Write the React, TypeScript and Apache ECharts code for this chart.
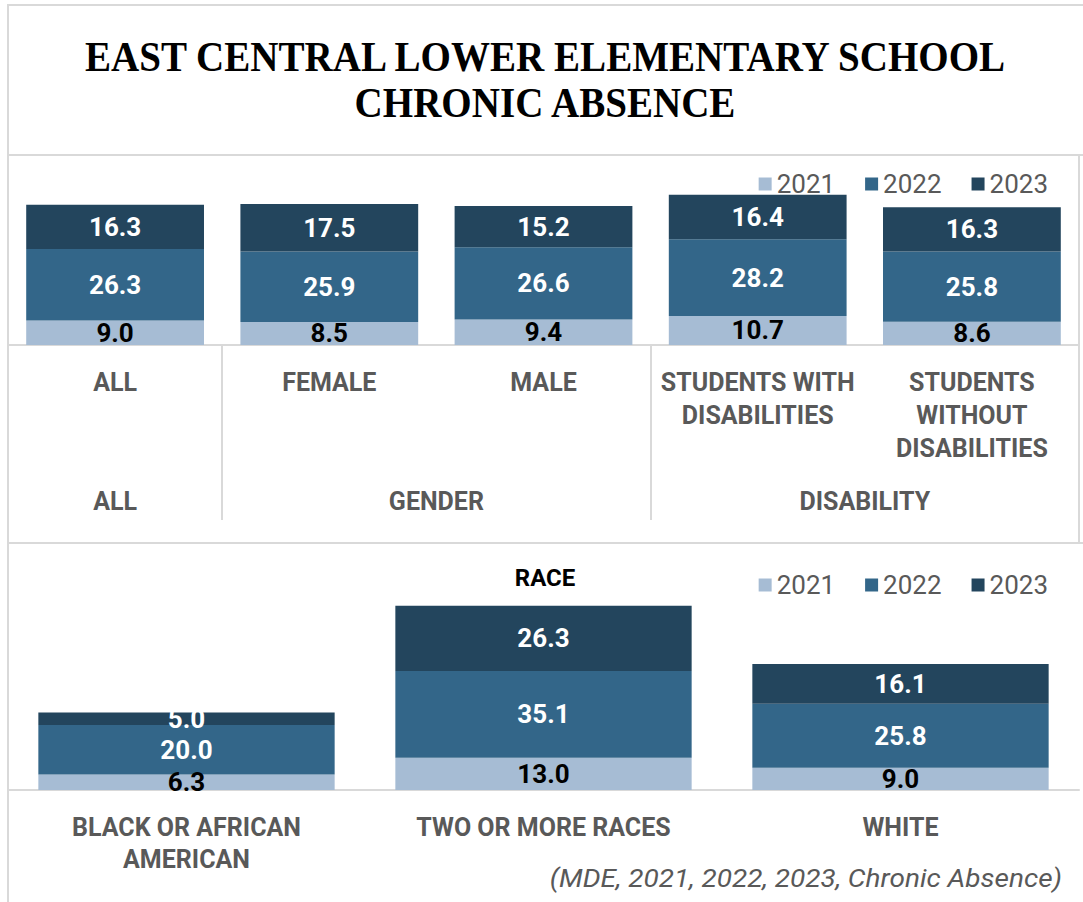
import React, { useEffect, useRef } from "react";
import * as echarts from "echarts";

const topCategories = [
  "ALL",
  "FEMALE",
  "MALE",
  "STUDENTS WITH\nDISABILITIES",
  "STUDENTS\nWITHOUT\nDISABILITIES",
];
const groupNames = ["ALL", "GENDER", "DISABILITY"];
const groupSizes = [1, 2, 2];
const top2021 = [9.0, 8.5, 9.4, 10.7, 8.6];
const top2022 = [26.3, 25.9, 26.6, 28.2, 25.8];
const top2023 = [16.3, 17.5, 15.2, 16.4, 16.3];

const raceCategories = ["BLACK OR AFRICAN\nAMERICAN", "TWO OR MORE RACES", "WHITE"];
const race2021 = [6.3, 13.0, 9.0];
const race2022 = [20.0, 35.1, 25.8];
const race2023 = [5.0, 26.3, 16.1];

const years = ["2021", "2022", "2023"];
const colors = ["#A6BCD4", "#336689", "#23455D"];
const labelColors = ["#000000", "#FFFFFF", "#FFFFFF"];

const FONT = "Roboto, 'Open Sans', sans-serif";
const GRID_LINE = "#D9D9D9";

export default function App() {
  const ref = useRef<HTMLDivElement>(null);

  useEffect(() => {
    if (!ref.current) return;
    const chart = echarts.init(ref.current, undefined, { renderer: "svg" });

    const centers: number[] = [];
    const bounds: number[] = [];
    let acc = 0;
    groupSizes.forEach((s, i) => {
      centers.push(acc + s / 2);
      acc += s;
      if (i < groupSizes.length - 1) bounds.push(acc);
    });
    const totalCats = acc;

    const barLabel = (i: number) => ({
      show: true,
      position: "inside",
      color: labelColors[i],
      fontFamily: FONT,
      fontWeight: "bold",
      fontSize: 26,
      formatter: (p: any) => Number(p.value).toFixed(1),
    });

    const topData = [top2021, top2022, top2023];
    const raceData = [race2021, race2022, race2023];

    const series: any[] = [];
    years.forEach((y, i) => {
      series.push({
        name: y,
        type: "bar",
        stack: "top",
        xAxisIndex: 0,
        yAxisIndex: 0,
        barWidth: "83%",
        itemStyle: { color: colors[i] },
        label: barLabel(i),
        data: topData[i],
      });
    });
    years.forEach((y, i) => {
      series.push({
        name: y,
        type: "bar",
        stack: "race",
        xAxisIndex: 2,
        yAxisIndex: 1,
        barWidth: "83%",
        itemStyle: { color: colors[i] },
        label: barLabel(i),
        data: raceData[i],
      });
    });

    const legendBase = {
      data: years,
      right: 30,
      icon: "rect",
      itemWidth: 13,
      itemHeight: 13,
      itemGap: 30,
      textStyle: { fontSize: 26, color: "#595959", fontFamily: FONT },
    };

    const catLabel = {
      color: "#595959",
      fontFamily: FONT,
      fontWeight: "bold",
      fontSize: 25,
      lineHeight: 33,
      interval: 0,
    };

    chart.setOption({
      animation: false,
      backgroundColor: "#FFFFFF",
      legend: [
        { ...legendBase, top: 166 },
        { ...legendBase, top: 567 },
      ],
      grid: [
        { left: 8, width: 1071, top: 182, height: 163 },
        { left: 8, width: 1071, top: 592, height: 198 },
      ],
      xAxis: [
        {
          gridIndex: 0,
          type: "category",
          data: topCategories,
          position: "bottom",
          axisLine: { show: true, lineStyle: { color: GRID_LINE, width: 2 } },
          axisTick: { show: false },
          axisLabel: { ...catLabel, margin: 21 },
        },
        {
          gridIndex: 0,
          type: "value",
          position: "bottom",
          min: 0,
          max: totalCats,
          axisLine: { show: false },
          splitLine: { show: false },
          axisTick: {
            show: true,
            customValues: bounds,
            length: 175,
            lineStyle: { color: GRID_LINE, width: 2 },
          },
          axisLabel: {
            ...catLabel,
            margin: 140,
            customValues: centers,
            formatter: (v: number) => {
              const idx = centers.findIndex((c) => Math.abs(c - v) < 1e-6);
              return idx >= 0 ? groupNames[idx] : "";
            },
          },
        },
        {
          gridIndex: 1,
          type: "category",
          data: raceCategories,
          position: "bottom",
          axisLine: { show: true, lineStyle: { color: GRID_LINE, width: 2 } },
          axisTick: { show: false },
          axisLabel: { ...catLabel, lineHeight: 32, margin: 21 },
        },
      ],
      yAxis: [
        { gridIndex: 0, type: "value", min: 0, max: 60, show: false },
        { gridIndex: 1, type: "value", min: 0, max: 80, show: false },
      ],
      graphic: [
        {
          type: "rect",
          z: -1,
          shape: { x: 8, y: 5, width: 1090, height: 150 },
          style: { fill: "none", stroke: GRID_LINE, lineWidth: 2 },
        },
        {
          type: "rect",
          z: -1,
          shape: { x: 8, y: 155, width: 1071, height: 388 },
          style: { fill: "none", stroke: GRID_LINE, lineWidth: 2 },
        },
        {
          type: "rect",
          z: -1,
          shape: { x: 8, y: 543, width: 1090, height: 380 },
          style: { fill: "none", stroke: GRID_LINE, lineWidth: 2 },
        },
        {
          type: "text",
          x: 545,
          y: 57,
          scaleX: 0.93,
          style: {
            text: "EAST CENTRAL LOWER ELEMENTARY SCHOOL",
            x: 0,
            y: 0,
            align: "center",
            verticalAlign: "middle",
            fontFamily: "'Liberation Serif', 'DejaVu Serif', serif",
            fontWeight: "bold",
            fontSize: 42,
            fill: "#000000",
          },
        },
        {
          type: "text",
          x: 545,
          y: 103,
          scaleX: 0.93,
          style: {
            text: "CHRONIC ABSENCE",
            x: 0,
            y: 0,
            align: "center",
            verticalAlign: "middle",
            fontFamily: "'Liberation Serif', 'DejaVu Serif', serif",
            fontWeight: "bold",
            fontSize: 42,
            fill: "#000000",
          },
        },
        {
          type: "text",
          x: 545,
          y: 578,
          style: {
            text: "RACE",
            x: 0,
            y: 0,
            align: "center",
            verticalAlign: "middle",
            fontFamily: FONT,
            fontWeight: "bold",
            fontSize: 24,
            fill: "#000000",
          },
        },
        {
          type: "text",
          x: 1062,
          y: 878,
          scaleX: 1.12,
          style: {
            text: "(MDE, 2021, 2022, 2023, Chronic Absence)",
            x: 0,
            y: 0,
            align: "right",
            verticalAlign: "middle",
            fontFamily: FONT,
            fontStyle: "italic",
            fontSize: 25,
            fill: "#595959",
          },
        },
      ],
      series,
    });

    return () => chart.dispose();
  }, []);

  return (
    <div
      ref={ref}
      style={{ position: "fixed", left: 0, top: 0, width: 1083, height: 902, background: "#fff" }}
    />
  );
}
